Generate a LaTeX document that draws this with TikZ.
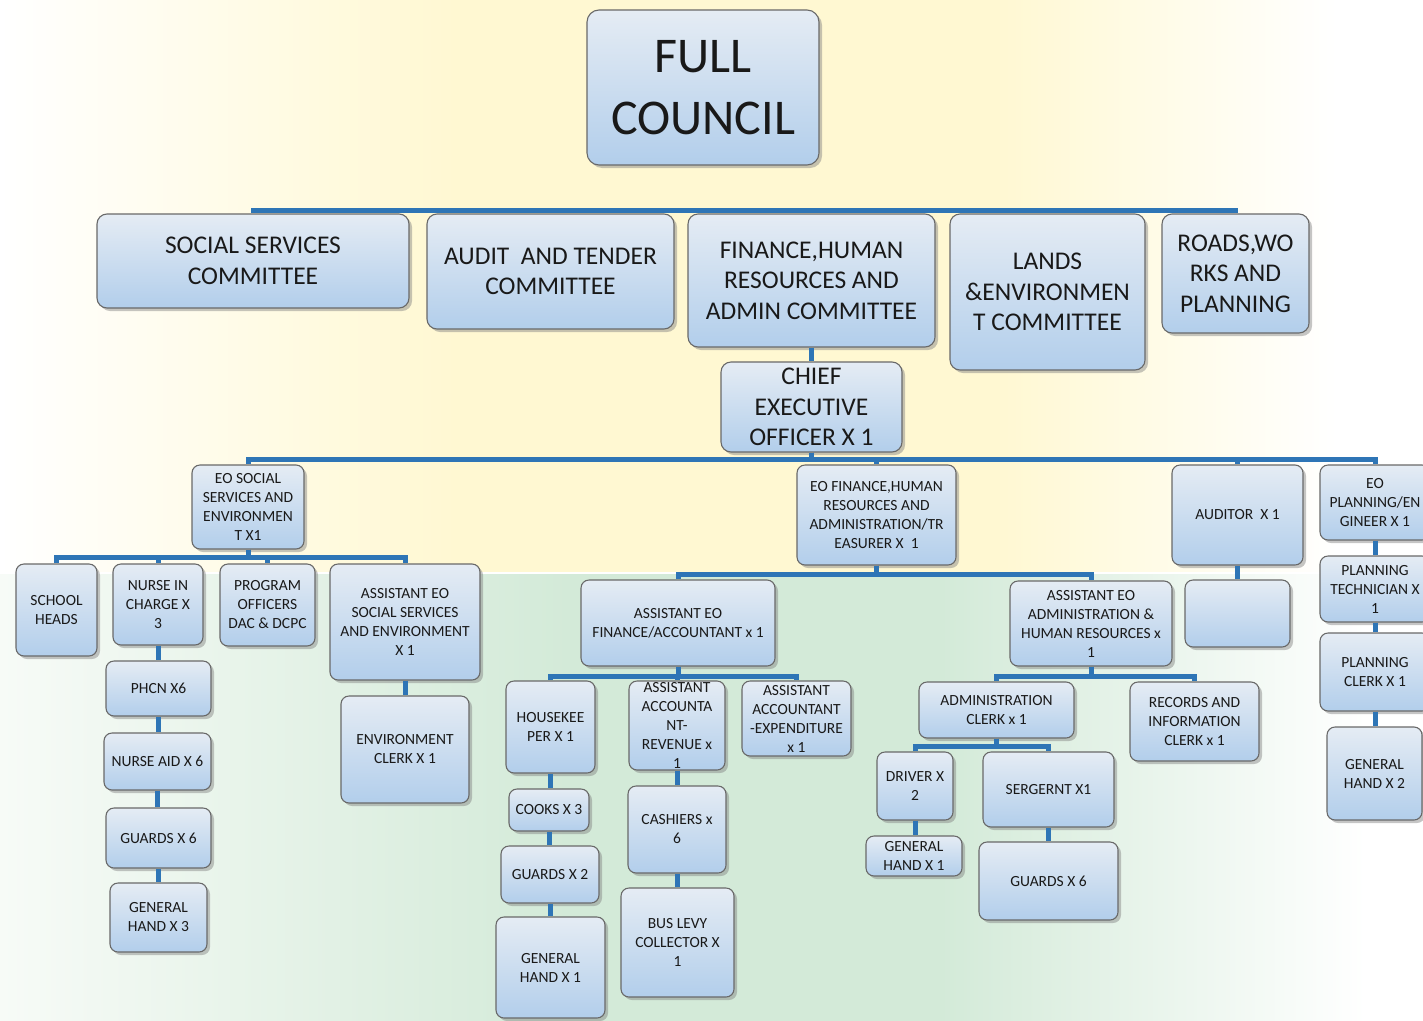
\documentclass[tikz,border=0pt]{standalone}
\usepackage{fontspec}
\setmainfont{Carlito}
\usetikzlibrary{shadows}
\definecolor{ink}{RGB}{25,25,25}
\definecolor{edge}{RGB}{105,105,105}
\definecolor{boxtop}{RGB}{229,236,244}
\definecolor{boxbot}{RGB}{178,206,235}
\definecolor{linkblue}{RGB}{46,117,182}
\definecolor{bgyellow}{RGB}{255,248,210}
\definecolor{bggreen}{RGB}{211,234,216}
\definecolor{bgpale}{RGB}{247,251,247}
\pgfdeclarehorizontalshading{upperbg}{100bp}{color(0bp)=(white); color(25bp)=(white);
  color(41bp)=(bgyellow); color(60bp)=(bgyellow); color(72bp)=(white); color(100bp)=(white)}
\pgfdeclarehorizontalshading{lowerbg}{100bp}{color(0bp)=(bgpale); color(25bp)=(bgpale);
  color(45bp)=(bggreen); color(58bp)=(bggreen); color(73bp)=(white); color(100bp)=(white)}

\begin{document}
\begin{tikzpicture}
[
x=1pt, y=-1pt,
box/.style={draw=edge, line width=1.1pt, rounded corners=8pt, top color=boxtop, bottom color=boxbot,
  drop shadow={shadow xshift=3pt, shadow yshift=-3pt, opacity=.45}, align=center, inner sep=0pt, text=ink},
wh/.style 2 args={minimum width=#1pt, minimum height=#2pt},
topbox/.style={font=\fontsize{50}{62}\selectfont, rounded corners=12pt},
midtext/.style={font=\fontsize{25.5}{30.5}\selectfont, rounded corners=10pt},
smalltext/.style={font=\fontsize{15.5}{19}\selectfont},
link/.style={draw=linkblue, line width=5pt}
]

\useasboundingbox (0,0) rectangle (1423,1020);
\clip (0,0) rectangle (1423,1020);
\shade[shading=upperbg] (0,0) rectangle (1423,573);
\shade[shading=lowerbg] (0,573) rectangle (1423,1020);
\draw[white, line width=2pt] (0,573) -- (1423,573);

\node[box, topbox, wh={232}{155}] (full) at (703,87.5) {FULL\\COUNCIL};
\path (full.south) ++(0,45) coordinate (hub);

\node[box, midtext, wh={312}{94}] (social) at (253,261) {SOCIAL SERVICES\\COMMITTEE};
\node[box, midtext, wh={247}{115}] (audit) at (550.5,271.5) {AUDIT~ AND TENDER\\COMMITTEE};
\node[box, midtext, wh={247}{133}] (finance) at (811.5,280.5) {FINANCE,HUMAN\\RESOURCES AND\\ADMIN COMMITTEE};
\node[box, midtext, wh={195}{156}] (lands) at (1047.5,292) {LANDS\\\&ENVIRONMEN\\T COMMITTEE};
\node[box, midtext, wh={147}{119}] (roads) at (1235.5,273.5) {ROADS,WO\\RKS AND\\PLANNING};

\node[box, midtext, wh={181}{90}] (ceo) at (811.5,407) {CHIEF\\EXECUTIVE\\OFFICER X 1};

\node[box, smalltext, wh={112}{84}] (eosocial) at (248,507) {EO SOCIAL\\SERVICES AND\\ENVIRONMEN\\T X1};
\node[box, smalltext, wh={159}{100}] (eofinance) at (876.5,515) {EO FINANCE,HUMAN\\RESOURCES AND\\ADMINISTRATION/TR\\EASURER X~ 1};
\node[box, smalltext, wh={131}{100}] (auditor) at (1237.5,515) {AUDITOR~ X 1};
\node[box, smalltext, wh={110}{75}] (eoplanning) at (1375,502.5) {EO\\PLANNING/EN\\GINEER X 1};

\node[box, smalltext, wh={81}{92}] (school) at (56.5,610) {SCHOOL\\HEADS};
\node[box, smalltext, wh={90}{81}] (nurse) at (158,604.5) {NURSE IN\\CHARGE X\\3};
\node[box, smalltext, wh={95}{82}] (program) at (267.5,605) {PROGRAM\\OFFICERS\\DAC \& DCPC};
\node[box, smalltext, wh={150}{116}] (asstsocial) at (405,622) {ASSISTANT EO\\SOCIAL SERVICES\\AND ENVIRONMENT\\X 1};

\node[box, smalltext, wh={105}{55}] (phcn) at (158.5,688.5) {PHCN X6};
\node[box, smalltext, wh={107}{57}] (nurseaid) at (157.5,761.5) {NURSE AID X 6};
\node[box, smalltext, wh={105}{60}] (guardssocial) at (158.5,838) {GUARDS X 6};
\node[box, smalltext, wh={97}{69}] (handsocial) at (158.5,917.5) {GENERAL\\HAND X 3};
\node[box, smalltext, wh={128}{107}] (envclerk) at (405,749.5) {ENVIRONMENT\\CLERK X 1};

\node[box, smalltext, wh={194}{86}] (asstfinance) at (678,623) {ASSISTANT EO\\FINANCE/ACCOUNTANT x 1};
\node[box, smalltext, wh={162}{85}] (asstadmin) at (1091,623.5) {ASSISTANT EO\\ADMINISTRATION \&\\HUMAN RESOURCES x\\1};
\node[box, smalltext, wh={105}{67}] (blank) at (1237.5,613.5) {};

\node[box, smalltext, wh={110}{66}] (plantech) at (1375,589) {PLANNING\\TECHNICIAN X\\1};
\node[box, smalltext, wh={110}{78}] (planclerk) at (1375,672) {PLANNING\\CLERK X 1};
\node[box, smalltext, wh={95}{93}] (planhand) at (1374.5,773.5) {GENERAL\\HAND X 2};

\node[box, smalltext, wh={89}{92}] (housekeeper) at (550.5,727) {HOUSEKEE\\PER X 1};
\node[box, smalltext, wh={96}{89}] (revenue) at (677,725.5) {ASSISTANT\\ACCOUNTA\\NT-\\REVENUE x\\1};
\node[box, smalltext, wh={109}{75}] (expenditure) at (796.5,718.5) {ASSISTANT\\ACCOUNTANT\\-EXPENDITURE\\x 1};

\node[box, smalltext, wh={80}{42}] (cooks) at (549,810) {COOKS X 3};
\node[box, smalltext, wh={98}{57}] (guardsfin) at (550,874.5) {GUARDS X 2};
\node[box, smalltext, wh={109}{101}] (handfin) at (550.5,967.5) {GENERAL\\HAND X 1};
\node[box, smalltext, wh={98}{87}] (cashiers) at (677,829.5) {CASHIERS x\\6};
\node[box, smalltext, wh={113}{109}] (buslevy) at (677.5,942.5) {BUS LEVY\\COLLECTOR X\\1};

\node[box, smalltext, wh={155}{56}] (adminclerk) at (996.5,710) {ADMINISTRATION\\CLERK x 1};
\node[box, smalltext, wh={129}{79}] (records) at (1194.5,721.5) {RECORDS AND\\INFORMATION\\CLERK x 1};
\node[box, smalltext, wh={76}{68}] (driver) at (915,786) {DRIVER X\\2};
\node[box, smalltext, wh={131}{75}] (sergeant) at (1048.5,789.5) {SERGERNT X1};
\node[box, smalltext, wh={96}{40}] (handadmin) at (914,856) {GENERAL\\HAND X 1};
\node[box, smalltext, wh={139}{78}] (guardsadmin) at (1048.5,881) {GUARDS X 6};

\foreach \c in {social,audit,finance,lands,roads}
  \draw[link] (hub) -| (\c.north);
\draw[link] (finance.south) -- (ceo.north);
\foreach \c in {eosocial,eofinance,auditor,eoplanning}
  \draw[link] (ceo.south) -- ++(0,7) -| (\c.north);
\foreach \c in {school,nurse,program,asstsocial}
  \draw[link] (eosocial.south) -- ++(0,8) -| (\c.north);
\foreach \c in {asstfinance,asstadmin}
  \draw[link] (eofinance.south) -- ++(0,9) -| (\c.north);
\foreach \c in {housekeeper,revenue,expenditure}
  \draw[link] (asstfinance.south) -- ++(0,10) -| (\c.north);
\foreach \c in {adminclerk,records}
  \draw[link] (asstadmin.south) -- ++(0,10) -| (\c.north);
\foreach \c in {driver,sergeant}
  \draw[link] (adminclerk.south) -- ++(0,8) -| (\c.north);

\foreach \a/\b in {nurse/phcn, phcn/nurseaid, nurseaid/guardssocial, guardssocial/handsocial,
    asstsocial/envclerk, auditor/blank, eoplanning/plantech, plantech/planclerk, planclerk/planhand,
    housekeeper/cooks, cooks/guardsfin, guardsfin/handfin, revenue/cashiers, cashiers/buslevy,
    driver/handadmin, sergeant/guardsadmin}
  \draw[link] (\a.south) -- (\a.south |- \b.north);
\end{tikzpicture}
\end{document}
